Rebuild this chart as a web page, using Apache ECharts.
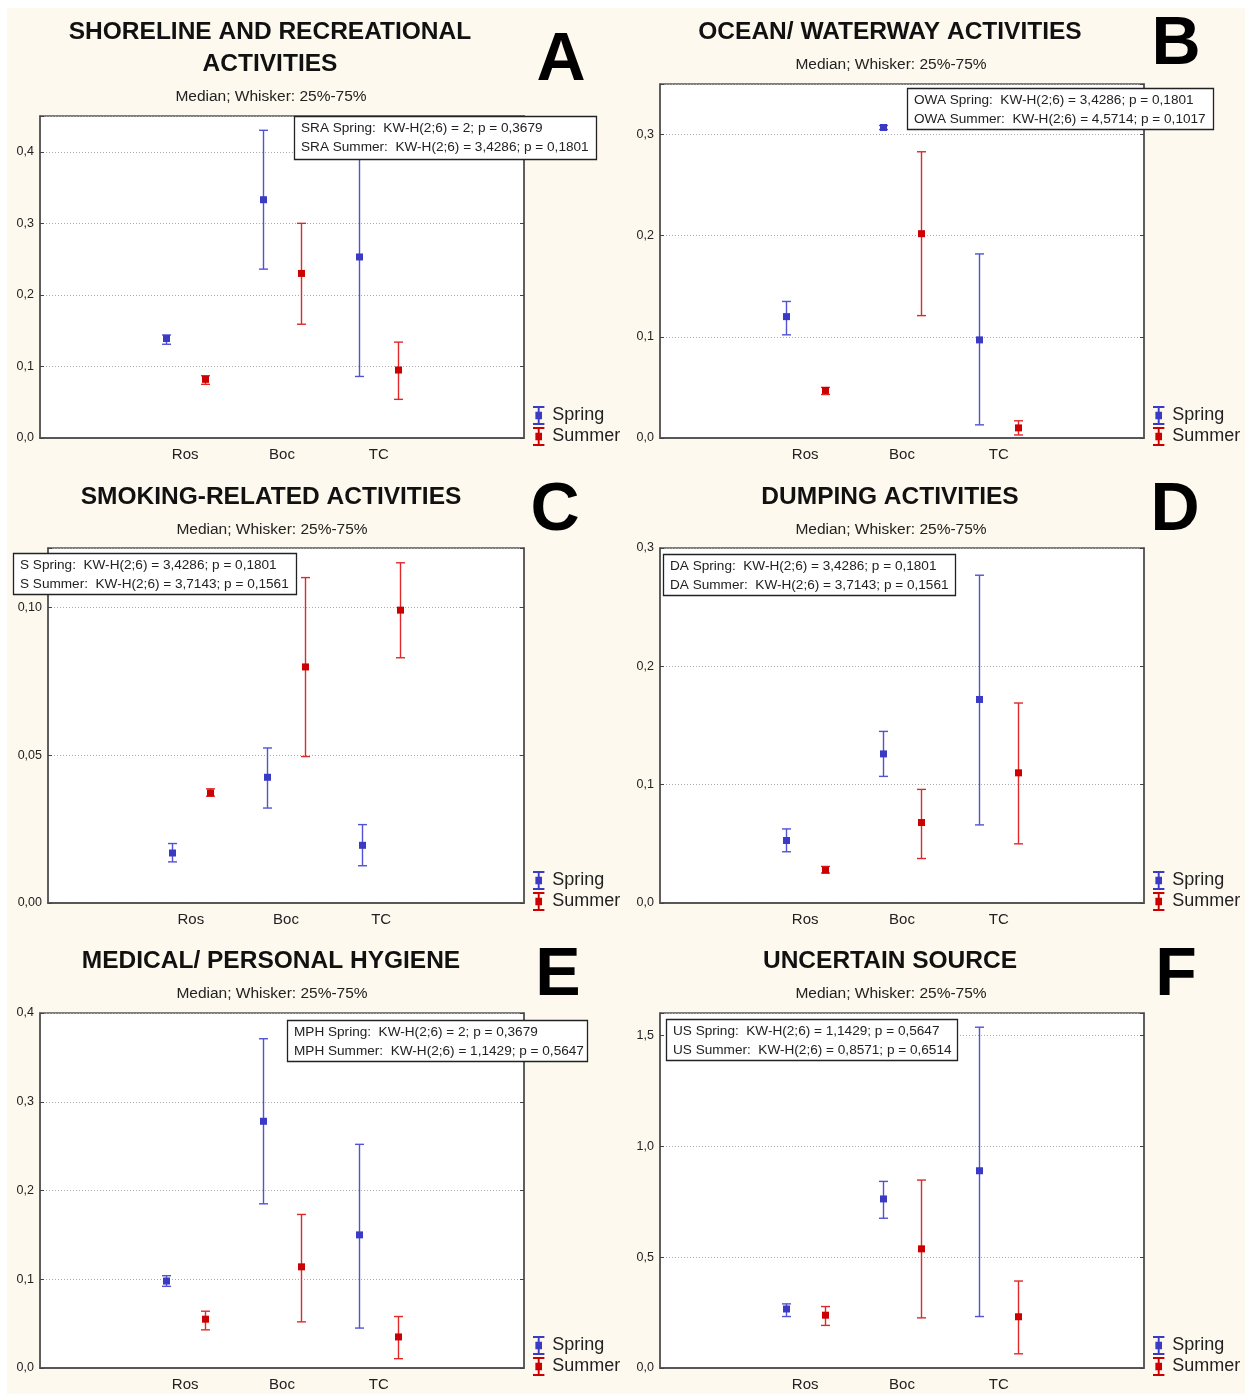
<!DOCTYPE html>
<html>
<head>
<meta charset="utf-8">
<script src="https://cdn.jsdelivr.net/npm/echarts@6/dist/echarts.min.js"></script>
<style>
  html, body { margin: 0; padding: 0; background: #fff; }
  #chart { width: 1245px; height: 1394px; }
</style>
</head>
<body>
<div id="chart"></div>
<script>
// x axis categories (blank slots at both ends, like the Statistica plot)
const sites = ['', 'Ros', 'Boc', 'TC', ''];

// per site (Ros, Boc, TC): [median, 25%, 75%]
const sraSpring = [[0.139, 0.131, 0.144], [0.333, 0.236, 0.430], [0.253, 0.086, 0.425]];
const sraSummer = [[0.082, 0.075, 0.087], [0.230, 0.159, 0.300], [0.095, 0.054, 0.134]];
const owaSpring = [[0.120, 0.102, 0.135], [0.307, 0.305, 0.309], [0.097, 0.013, 0.182]];
const owaSummer = [[0.047, 0.043, 0.050], [0.202, 0.121, 0.283], [0.010, 0.003, 0.017]];
const sSpring = [[0.0169, 0.0139, 0.0201], [0.0425, 0.0321, 0.0524], [0.0195, 0.0126, 0.0265]];
const sSummer = [[0.0372, 0.0361, 0.0386], [0.0798, 0.0495, 0.110], [0.099, 0.0829, 0.115]];
const daSpring = [[0.0528, 0.0433, 0.0626], [0.126, 0.107, 0.145], [0.172, 0.066, 0.277]];
const daSummer = [[0.0278, 0.0253, 0.0309], [0.068, 0.0376, 0.096], [0.110, 0.050, 0.169]];
const mphSpring = [[0.098, 0.092, 0.104], [0.278, 0.185, 0.371], [0.150, 0.045, 0.252]];
const mphSummer = [[0.055, 0.043, 0.064], [0.114, 0.052, 0.173], [0.035, 0.0105, 0.058]];
const usSpring = [[0.266, 0.232, 0.289], [0.762, 0.675, 0.841], [0.889, 0.232, 1.536]];
const usSummer = [[0.238, 0.192, 0.277], [0.537, 0.226, 0.847], [0.231, 0.064, 0.392]];

// Kruskal-Wallis notes
const sraStats = ['SRA Spring:  KW-H(2;6) = 2; p = 0,3679', 'SRA Summer:  KW-H(2;6) = 3,4286; p = 0,1801'];
const owaStats = ['OWA Spring:  KW-H(2;6) = 3,4286; p = 0,1801', 'OWA Summer:  KW-H(2;6) = 4,5714; p = 0,1017'];
const sStats = ['S Spring:  KW-H(2;6) = 3,4286; p = 0,1801', 'S Summer:  KW-H(2;6) = 3,7143; p = 0,1561'];
const daStats = ['DA Spring:  KW-H(2;6) = 3,4286; p = 0,1801', 'DA Summer:  KW-H(2;6) = 3,7143; p = 0,1561'];
const mphStats = ['MPH Spring:  KW-H(2;6) = 2; p = 0,3679', 'MPH Summer:  KW-H(2;6) = 1,1429; p = 0,5647'];
const usStats = ['US Spring:  KW-H(2;6) = 1,1429; p = 0,5647', 'US Summer:  KW-H(2;6) = 0,8571; p = 0,6514'];

const titles = [
  ['SHORELINE AND RECREATIONAL', 'ACTIVITIES'],
  ['OCEAN/ WATERWAY ACTIVITIES'],
  ['SMOKING-RELATED ACTIVITIES'],
  ['DUMPING ACTIVITIES'],
  ['MEDICAL/ PERSONAL HYGIENE'],
  ['UNCERTAIN SOURCE']
];
const letters = ['A', 'B', 'C', 'D', 'E', 'F'];
const subtitle = 'Median; Whisker: 25%-75%';

const FONT = '"Liberation Sans", Arial, sans-serif';
const SPRING_LINE = '#5252d6', SPRING_DOT = '#3a3ac4';
const SUMMER_LINE = '#e02828', SUMMER_DOT = '#cc0000';

const panels = [
  { grid: {left: 40, top: 116, width: 484, height: 322}, max: 0.45, step: 0.1, dec: 1,
    spring: sraSpring, summer: sraSummer, stats: sraStats,
    tx: 270, ty: 32, sy: 96, lx: 561, ly: 61, box: {x: 294, y: 116, w: 302, h: 43} },
  { grid: {left: 660, top: 84, width: 484, height: 354}, max: 0.35, step: 0.1, dec: 1,
    spring: owaSpring, summer: owaSummer, stats: owaStats,
    tx: 890, ty: 32, sy: 64, lx: 1176, ly: 45, box: {x: 907, y: 88, w: 306, h: 41} },
  { grid: {left: 48, top: 548, width: 476, height: 355}, max: 0.12, step: 0.05, dec: 2,
    spring: sSpring, summer: sSummer, stats: sStats,
    tx: 271, ty: 497, sy: 529, lx: 555, ly: 511, box: {x: 13, y: 553, w: 283, h: 41} },
  { grid: {left: 660, top: 548, width: 484, height: 355}, max: 0.3, step: 0.1, dec: 1,
    spring: daSpring, summer: daSummer, stats: daStats,
    tx: 890, ty: 497, sy: 529, lx: 1175, ly: 511, box: {x: 663, y: 554, w: 292, h: 41} },
  { grid: {left: 40, top: 1013, width: 484, height: 355}, max: 0.4, step: 0.1, dec: 1,
    spring: mphSpring, summer: mphSummer, stats: mphStats,
    tx: 271, ty: 961, sy: 993, lx: 558, ly: 976, box: {x: 287, y: 1020, w: 300, h: 41} },
  { grid: {left: 660, top: 1013, width: 484, height: 355}, max: 1.6, step: 0.5, dec: 1,
    spring: usSpring, summer: usSummer, stats: usStats,
    tx: 890, ty: 961, sy: 993, lx: 1176, ly: 976, box: {x: 666, y: 1019, w: 291, h: 41} }
];

function whisker(offset, lineColor, dotColor) {
  return function (params, api) {
    const band = api.size([1, 0])[0];
    const mid = api.coord([api.value(0), api.value(1)]);
    const lo = api.coord([api.value(0), api.value(2)]);
    const hi = api.coord([api.value(0), api.value(3)]);
    const x = Math.round(mid[0] + band * offset) + 0.5;
    const cap = 4.5;
    const st = {stroke: lineColor, lineWidth: 1.4};
    return {
      type: 'group',
      children: [
        {type: 'line', shape: {x1: x, y1: lo[1], x2: x, y2: hi[1]}, style: st},
        {type: 'line', shape: {x1: x - cap, y1: hi[1], x2: x + cap, y2: hi[1]}, style: st},
        {type: 'line', shape: {x1: x - cap, y1: lo[1], x2: x + cap, y2: lo[1]}, style: st},
        {type: 'rect', shape: {x: x - 3.5, y: mid[1] - 3.5, width: 7, height: 7}, style: {fill: dotColor}}
      ]
    };
  };
}

function toSeriesData(rows) {
  return rows.map((r, i) => [i + 1, r[0], r[1], r[2]]);
}

// I-bar with a square, for the legend
const legendIcon = 'path://M0,0H12V2H7V6H9.5V14H7V18H12V20H0V18H5V14H2.5V6H5V2H0Z';

const grids = [], xAxes = [], yAxes = [], series = [], legends = [];
const graphics = [
  {type: 'rect', z: -10, shape: {x: 7, y: 8, width: 1238, height: 1386}, style: {fill: '#fef9ef'}}
];

panels.forEach((p, k) => {
  grids.push(Object.assign({show: true, backgroundColor: '#fff', borderColor: '#555', borderWidth: 1.5}, p.grid));
  const tick = {inside: true, length: 4, alignWithLabel: true, lineStyle: {color: '#444'}};
  xAxes.push({
    gridIndex: k, type: 'category', data: sites, boundaryGap: true, position: 'bottom',
    axisLine: {lineStyle: {color: '#555', width: 1.5}}, axisTick: tick,
    axisLabel: {interval: 0, margin: 9, fontFamily: FONT, fontSize: 15, color: '#222'}
  });
  xAxes.push({
    gridIndex: k, type: 'category', data: sites, boundaryGap: true, position: 'top',
    axisLine: {lineStyle: {color: '#555', width: 1.5}}, axisTick: tick, axisLabel: {show: false}
  });
  const yFmt = v => {
    const r = v / p.step;
    if (Math.abs(r - Math.round(r)) > 1e-6) return '';
    return v.toFixed(p.dec).replace('.', ',');
  };
  yAxes.push({
    gridIndex: k, type: 'value', min: 0, max: p.max, interval: p.step, position: 'left',
    axisLine: {show: true, lineStyle: {color: '#555', width: 1.5}},
    axisTick: {show: true, inside: true, length: 4, lineStyle: {color: '#444'}},
    splitLine: {lineStyle: {color: '#aaa', type: [1, 2]}},
    axisLabel: {formatter: yFmt, margin: 6, fontFamily: FONT, fontSize: 12.5, color: '#222'}
  });
  yAxes.push({
    gridIndex: k, type: 'value', min: 0, max: p.max, interval: p.step, position: 'right',
    axisLine: {show: true, lineStyle: {color: '#555', width: 1.5}},
    axisTick: {show: true, inside: true, length: 4, lineStyle: {color: '#444'}},
    splitLine: {show: false}, axisLabel: {show: false}
  });
  series.push({
    name: 'Spring', type: 'custom', xAxisIndex: 2 * k, yAxisIndex: 2 * k,
    itemStyle: {color: SPRING_DOT}, encode: {x: 0, y: [1, 2, 3]},
    renderItem: whisker(-0.2, SPRING_LINE, SPRING_DOT), data: toSeriesData(p.spring)
  });
  series.push({
    name: 'Summer', type: 'custom', xAxisIndex: 2 * k, yAxisIndex: 2 * k,
    itemStyle: {color: SUMMER_DOT}, encode: {x: 0, y: [1, 2, 3]},
    renderItem: whisker(0.2, SUMMER_LINE, SUMMER_DOT), data: toSeriesData(p.summer)
  });
  const g = p.grid;
  legends.push({
    data: ['Spring', 'Summer'], orient: 'vertical', icon: legendIcon,
    left: g.left + g.width + 9, top: g.top + g.height - 32,
    itemWidth: 13, itemHeight: 19, itemGap: 2, selectedMode: false, padding: 0,
    textStyle: {fontFamily: FONT, fontSize: 18, color: '#222', padding: [0, 0, 0, 2]}
  });

  // titles
  titles[k].forEach((t, i) => {
    graphics.push({type: 'text', z: 50, style: {
      text: t, x: p.tx, y: p.ty + i * 32, align: 'center', verticalAlign: 'middle',
      font: 'bold 24.5px ' + FONT, fill: '#111'
    }});
  });
  graphics.push({type: 'text', z: 50, style: {
    text: subtitle, x: p.tx + 1, y: p.sy + 1, align: 'center', verticalAlign: 'middle',
    font: '15.5px ' + FONT, fill: '#222'
  }});
  graphics.push({type: 'text', z: 50, style: {
    text: letters[k], x: p.lx, y: p.ly, align: 'center', verticalAlign: 'middle',
    font: 'bold 68px ' + FONT, fill: '#000'
  }});
  // stats box
  const b = p.box;
  graphics.push({type: 'rect', z: 100, shape: {x: b.x + 0.5, y: b.y + 0.5, width: b.w, height: b.h},
    style: {fill: '#fff', stroke: '#222', lineWidth: 1.3}});
  p.stats.forEach((t, i) => {
    graphics.push({type: 'text', z: 101, style: {
      text: t, x: b.x + 7, y: b.y + 12 + i * 19, verticalAlign: 'middle',
      font: '13.6px ' + FONT, fill: '#222'
    }});
  });
});

const chart = echarts.init(document.getElementById('chart'));
chart.setOption({
  animation: false,
  backgroundColor: '#fff',
  grid: grids,
  xAxis: xAxes,
  yAxis: yAxes,
  legend: legends,
  series: series,
  graphic: graphics
});
</script>
</body>
</html>
